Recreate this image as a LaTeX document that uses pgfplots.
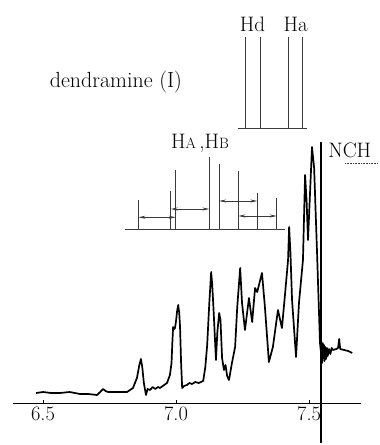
\documentclass[border=0pt]{standalone}
\usepackage{fontspec}
\usepackage{pgfplots}
\pgfplotsset{compat=1.18}
\usetikzlibrary{arrows.meta}
\definecolor{stick}{HTML}{3A3A3A}
\begin{document}
\begin{tikzpicture}
\begin{axis}[
  scale only axis, width=348bp, height=403bp,
  xmin=6.387, xmax=7.695, ymin=0, ymax=403,
  axis x line*=bottom, axis y line=none,
  clip=false,
  xtick={6.5,7.0,7.5}, xticklabels={6.5,7.0,7.5},
  tick align=inside, major tick length=3bp,
  every tick/.style={black, line width=0.6bp},
  axis line style={line width=0.8bp, black},
  /pgf/number format/assume math mode=true,
  xticklabel style={font=\fontsize{20.5}{24}\selectfont},
  ytick=\empty,
]
% bounding area of the reference picture
\path (axis cs:6.3383,-42) rectangle (axis cs:7.7632,403);

% spectrum trace
\addplot[black, line width=1.7bp, line join=round] coordinates {
(6.474,10) (6.50,11) (6.53,10) (6.564,10) (6.60,11) (6.639,9) (6.67,9) (6.703,8)
(6.715,11) (6.726,14) (6.735,12) (6.744,11) (6.78,11) (6.816,11) (6.838,15)
(6.853,25) (6.862,38) (6.868,44) (6.873,36) (6.879,20) (6.887,8) (6.893,14)
(6.902,13) (6.912,16) (6.922,14) (6.932,16) (6.940,15) (6.950,17) (6.966,20)
(6.977,28) (6.983,40) (6.986,60) (6.989,76) (6.993,74) (6.996,75) (7.000,82)
(7.004,92) (7.008,98) (7.012,90) (7.015,76) (7.019,40) (7.023,15) (7.030,17)
(7.041,18) (7.050,20) (7.060,19) (7.072,21) (7.085,20) (7.102,22) (7.110,36)
(7.117,58) (7.125,100) (7.132,131) (7.136,118) (7.141,93) (7.150,43) (7.155,70)
(7.162,90) (7.167,83) (7.173,45) (7.180,33) (7.186,38) (7.192,27) (7.199,23)
(7.210,40) (7.222,56) (7.230,96) (7.241,135) (7.248,100) (7.259,73) (7.274,105)
(7.286,81) (7.297,115) (7.305,111) (7.323,130) (7.334,96) (7.349,41) (7.364,56)
(7.383,93) (7.398,75) (7.410,110) (7.421,143) (7.425,176) (7.430,150) (7.436,103)
(7.451,46) (7.462,100) (7.477,143) (7.485,228) (7.491,200) (7.496,163) (7.511,256)
(7.519,235) (7.530,150) (7.541,60) (7.549,40) (7.551,60) (7.553,45) (7.556,58)
(7.558,42) (7.561,56) (7.564,44) (7.567,55) (7.570,47) (7.575,54) (7.580,49)
(7.585,55) (7.590,53) (7.602,54) (7.609,55) (7.613,64) (7.617,54) (7.632,53)
(7.647,52) (7.662,50)
};

% NCH3 marker line
\addplot[black, line width=1.4bp] coordinates {(7.545,-40) (7.545,261)};

% upper stick diagram (Hd, Ha)
\addplot[stick, line width=0.8bp] coordinates {(7.2331,275) (7.4925,275)};
\addplot[stick, line width=0.7bp] coordinates {(7.2620,275) (7.2620,366)};
\addplot[stick, line width=0.7bp] coordinates {(7.3158,275) (7.3158,366)};
\addplot[stick, line width=0.7bp] coordinates {(7.4211,275) (7.4211,366)};
\addplot[stick, line width=0.7bp] coordinates {(7.4763,275) (7.4763,366)};

% lower stick diagram (HA, HB)
\addplot[stick, line width=0.8bp] coordinates {(6.8083,173.7) (7.4098,173.7)};
\addplot[stick, line width=0.7bp] coordinates {(6.8583,173.7) (6.8583,203)};
\addplot[stick, line width=0.7bp] coordinates {(6.9801,173.7) (6.9801,212)};
\addplot[stick, line width=0.7bp] coordinates {(6.9989,173.7) (6.9989,233)};
\addplot[stick, line width=0.7bp] coordinates {(7.1252,173.7) (7.1252,245.7)};
\addplot[stick, line width=0.7bp] coordinates {(7.1617,173.7) (7.1617,239)};
\addplot[stick, line width=0.7bp] coordinates {(7.2342,173.7) (7.2342,232)};
\addplot[stick, line width=0.7bp] coordinates {(7.3056,173.7) (7.3056,209.7)};
\addplot[stick, line width=0.7bp] coordinates {(7.3786,173.7) (7.3786,204.7)};

% coupling arrows
\addplot[stick, line width=0.8bp, {Stealth[length=7bp,width=3bp]}-{Stealth[length=7bp,width=3bp]}] coordinates {(6.8583,185.7) (6.9989,185.7)};
\addplot[stick, line width=0.8bp, {Stealth[length=7bp,width=3bp]}-{Stealth[length=7bp,width=3bp]}] coordinates {(6.9801,194) (7.1252,194)};
\addplot[stick, line width=0.8bp, {Stealth[length=7bp,width=3bp]}-{Stealth[length=7bp,width=3bp]}] coordinates {(7.1617,202) (7.3056,202)};
\addplot[stick, line width=0.8bp, {Stealth[length=7bp,width=3bp]}-{Stealth[length=7bp,width=3bp]}] coordinates {(7.2342,187) (7.3786,187)};

% NCH underline
\addplot[stick, line width=0.6bp, densely dotted] coordinates {(7.6353,240) (7.7594,240)};

% labels
\node[anchor=base, font=\fontsize{22}{26}\selectfont, inner sep=0pt] at (axis cs:6.774,315) {dendramine (I)};
\node[anchor=base, font=\fontsize{21}{24}\selectfont, inner sep=0pt] at (axis cs:7.2876,371) {Hd};
\node[anchor=base, font=\fontsize{21}{24}\selectfont, inner sep=0pt] at (axis cs:7.4492,371) {Ha};
\node[anchor=base, font=\fontsize{21}{24}\selectfont, inner sep=0pt] at (axis cs:7.0902,254) {H{\fontsize{15}{15}\selectfont A}\,,H{\fontsize{15}{15}\selectfont B}};
\node[anchor=base west, font=\fontsize{21}{24}\selectfont, inner sep=0pt] at (axis cs:7.5714,245) {NCH};
\end{axis}
\end{tikzpicture}
\end{document}
